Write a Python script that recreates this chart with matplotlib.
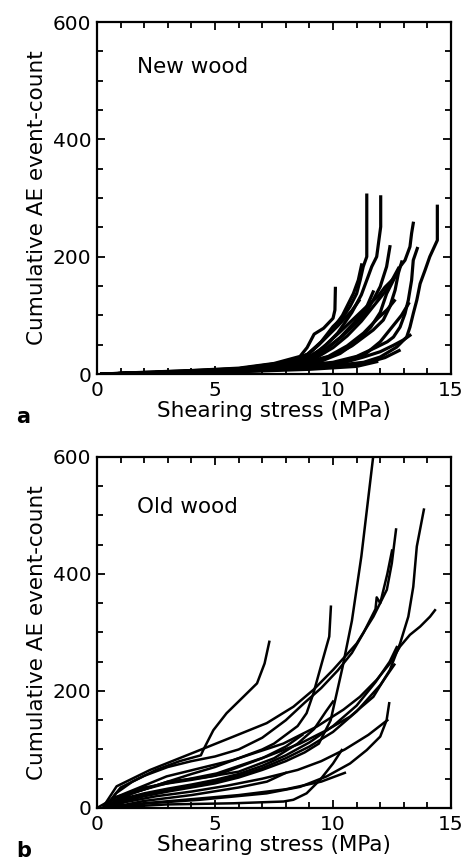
import matplotlib
matplotlib.use('Agg')
import matplotlib.pyplot as plt
from matplotlib.ticker import MultipleLocator

# ---- data (stress in MPa, cumulative AE counts) ----
new_wood_stress = [
    [0.2, 2, 4, 6, 7.5, 8.6, 8.9, 9.2, 9.6, 10.0, 10.08, 10.1],
    [0.2, 2, 4, 6, 8, 8.9, 9.5, 10.0, 10.44, 10.72, 11.0, 11.15, 11.28, 11.43, 11.43],
    [0.2, 3, 6, 8, 9.0, 9.6, 10.2, 10.8, 11.2, 11.43, 11.64, 11.85, 12.02, 12.02],
    [0.2, 3, 6, 8, 9.2, 9.8, 10.4, 11.0, 11.4, 11.7, 12.0, 12.27, 12.41],
    [0.2, 3, 6, 8, 8.9, 9.4, 9.9, 10.4, 10.86, 11.07, 11.21],
    [0.2, 3, 6, 8, 9.5, 10.3, 11.0, 11.6, 12.0, 12.27, 12.56, 12.84, 13.05, 13.26, 13.33, 13.4],
    [0.2, 3, 6, 8, 10, 11, 11.8, 12.3, 12.56, 12.84, 13.05, 13.19, 13.33, 13.4, 13.57],
    [0.2, 3, 6, 8, 10, 11.3, 12.0, 12.7, 13.12, 13.26, 13.4, 13.55, 13.69, 13.9, 14.1, 14.42, 14.42],
    [0.2, 3, 6, 9, 10.5, 11.3, 12.0, 12.56, 12.98, 13.26],
    [0.2, 3, 6, 8, 9.5, 10.2, 10.8, 11.3, 11.7, 12.13, 12.41, 12.63, 12.77, 12.91],
    [0.2, 3, 6, 8, 9.3, 10.0, 10.6, 11.2, 11.7, 12.2, 12.5, 12.77],
    [0.2, 3, 6, 8, 9.1, 9.7, 10.3, 10.9, 11.5, 11.9, 12.2, 12.5],
    [0.2, 3, 6, 9, 11, 11.85],
    [0.2, 3, 6, 9, 10.5, 11.5, 12.2, 12.8],
    [0.2, 3, 6, 8.5, 9.8, 10.6, 11.3, 11.9, 12.3, 12.6],
    [0.2, 3, 6, 9, 10.5, 11.4, 12.0, 12.5, 12.9, 13.2],
    [0.2, 3, 6, 8, 9.0, 9.6, 10.2, 10.8, 11.1],
    [0.2, 3, 6, 8.7, 9.6, 10.3, 10.9, 11.4, 11.7],
]
new_wood_count = [
    [0, 3, 6, 10, 18, 30, 45, 68, 78, 95, 109, 146],
    [0, 2, 5, 9, 20, 33, 55, 81, 98, 115, 137, 160, 183, 200, 305],
    [0, 3, 8, 18, 30, 45, 70, 105, 135, 160, 183, 200, 251, 302],
    [0, 3, 8, 17, 30, 45, 65, 88, 105, 126, 149, 183, 217],
    [0, 4, 9, 19, 33, 50, 72, 100, 137, 160, 186],
    [0, 3, 7, 14, 22, 35, 55, 80, 105, 137, 160, 183, 194, 217, 240, 257],
    [0, 2, 6, 12, 20, 30, 45, 55, 63, 80, 103, 126, 160, 194, 214],
    [0, 2, 4, 8, 14, 20, 29, 46, 63, 80, 103, 126, 154, 177, 200, 228, 286],
    [0, 2, 5, 11, 20, 29, 38, 49, 58, 66],
    [0, 3, 7, 15, 25, 35, 48, 63, 75, 92, 115, 143, 172, 191],
    [0, 3, 7, 16, 28, 45, 65, 90, 115, 140, 160, 180],
    [0, 3, 8, 17, 30, 50, 72, 95, 118, 132, 148, 160],
    [0, 2, 4, 8, 13, 21],
    [0, 2, 5, 10, 15, 20, 28, 40],
    [0, 3, 7, 16, 30, 48, 70, 95, 110, 125],
    [0, 2, 5, 12, 22, 35, 55, 80, 100, 120],
    [0, 3, 8, 18, 35, 58, 82, 108, 125],
    [0, 3, 8, 22, 40, 62, 88, 112, 140],
]

old_wood_stress = [
    [0.3, 1, 2, 3, 4, 5, 6, 7, 8, 8.8, 9.4, 9.9, 10.4, 10.8, 11.2, 11.7],
    [0.4, 0.8, 1.5, 2.5, 3.5, 4.4, 4.5, 4.93, 5.49, 6.2, 6.78, 7.1, 7.3],
    [0.4, 1, 2, 3, 4, 5, 6, 7, 7.5, 8.5, 8.88, 9.17, 9.52, 9.84, 9.91],
    [0.28, 0.83, 2.25, 4.36, 5.78, 7.19, 8.32, 9.17, 10.0, 11.0, 11.71, 12.28, 12.49, 12.67],
    [0.0, 0.83, 2.95, 5.07, 7.19, 8.6, 9.73, 10.72, 11.71, 12.41, 12.84, 13.19, 13.4, 13.55, 13.85],
    [0.3, 0.83, 2.95, 5.78, 7.89, 9.31, 10.44, 11.14, 11.85, 12.41, 12.84, 13.26, 13.69, 14.11, 14.32],
    [0.3, 1.5, 4.36, 7.19, 8.6, 9.73, 10.72, 11.43, 12.0, 12.27, 12.38],
    [0.3, 2.95, 5.78, 7.9, 8.32, 8.88, 9.45, 10.0, 10.37],
    [0.4, 1, 2, 3, 4, 5, 6, 7, 8, 8.8, 9.5, 10.2, 10.8, 11.3, 11.8, 11.85, 12.0, 12.3, 12.5],
    [0.4, 1, 2, 3, 4, 5, 6, 7, 8, 8.7],
    [0.4, 1, 2, 3, 4, 5, 6, 7, 8, 9, 10, 11, 11.8, 12.4, 12.7],
    [0.5, 2, 4, 6, 7.2, 8.0],
    [0.4, 1, 2, 3, 4, 5, 6, 7, 8, 9, 10, 11, 12, 12.6],
    [0.4, 1.2, 2.5, 4, 5.5, 7, 8.5, 9.5, 10.5, 11.5, 12.3],
    [0.4, 1.5, 3, 4.5, 6, 7.5, 8.5, 9.2, 9.7, 10.0],
    [0.4, 2, 4, 6, 8, 9.5, 10.5],
]
old_wood_count = [
    [0, 10, 20, 28, 35, 42, 52, 65, 80, 95, 110, 150, 240, 320, 430, 600],
    [0, 25, 45, 65, 80, 90, 99, 133, 162, 190, 213, 247, 284],
    [0, 18, 32, 45, 58, 70, 85, 100, 110, 140, 162, 196, 247, 293, 344],
    [3, 37, 65, 99, 122, 145, 173, 202, 236, 281, 327, 373, 418, 476],
    [0, 19, 42, 59, 88, 110, 133, 156, 190, 236, 281, 327, 378, 447, 510],
    [0, 19, 54, 82, 110, 139, 168, 190, 219, 247, 276, 296, 310, 327, 338],
    [0, 6, 14, 25, 36, 54, 76, 99, 122, 150, 179],
    [0, 6, 8, 11, 14, 25, 48, 76, 99],
    [5, 35, 55, 70, 80, 88, 100, 120, 150, 180, 205, 235, 265, 300, 340, 360, 350, 400, 440],
    [0, 20, 35, 42, 48, 55, 70, 85, 105, 125],
    [0, 15, 25, 33, 40, 48, 58, 72, 90, 112, 140, 175, 215, 250, 275],
    [0, 12, 22, 35, 45, 60],
    [0, 12, 22, 30, 37, 45, 55, 68, 85, 105, 130, 165, 210, 245],
    [0, 10, 20, 28, 38, 50, 65, 80, 100, 125, 150],
    [0, 25, 45, 52, 62, 85, 110, 135, 165, 182],
    [0, 8, 15, 22, 32, 45, 60],
]

plt.rcParams['font.family'] = 'DejaVu Sans'

fig = plt.figure(figsize=(4.71, 8.61), dpi=100)
ax1 = fig.add_axes([0.206, 0.5656, 0.7516, 0.4088])
ax2 = fig.add_axes([0.206, 0.0616, 0.7516, 0.4077])

panels = [
    (ax1, new_wood_stress, new_wood_count, 'New wood', 523, 2.3),
    (ax2, old_wood_stress, old_wood_count, 'Old wood', 514, 1.8),
]

for ax, xs, ys, label, ylab_pos, lw in panels:
    for sx, sy in zip(xs, ys):
        ax.plot(sx, sy, color='black', linewidth=lw, solid_joinstyle='round')
    ax.set_xlim(0, 15)
    ax.set_ylim(0, 600)
    ax.xaxis.set_major_locator(MultipleLocator(5))
    ax.xaxis.set_minor_locator(MultipleLocator(1))
    ax.yaxis.set_major_locator(MultipleLocator(200))
    ax.yaxis.set_minor_locator(MultipleLocator(50))
    ax.tick_params(which='both', direction='in', top=True, right=True,
                   width=1.3, labelsize=14.5)
    ax.tick_params(which='major', length=6)
    ax.tick_params(which='minor', length=4)
    ax.tick_params(axis='x', which='major', pad=5)
    ax.tick_params(axis='y', which='major', pad=4)
    for sp in ax.spines.values():
        sp.set_linewidth(1.6)
    ax.set_xlabel('Shearing stress (MPa)', fontsize=15.5, labelpad=1)
    ax.set_ylabel('Cumulative AE event-count', fontsize=15.5, labelpad=4)
    ax.text(1.7, ylab_pos, label, fontsize=15.5, va='center', ha='left')

fig.text(16 / 471, (861 - 417) / 861, 'a', fontsize=15, fontweight='bold', va='center')
fig.text(16 / 471, (861 - 851) / 861, 'b', fontsize=15, fontweight='bold', va='center')

fig.savefig('out.png', dpi=100)
